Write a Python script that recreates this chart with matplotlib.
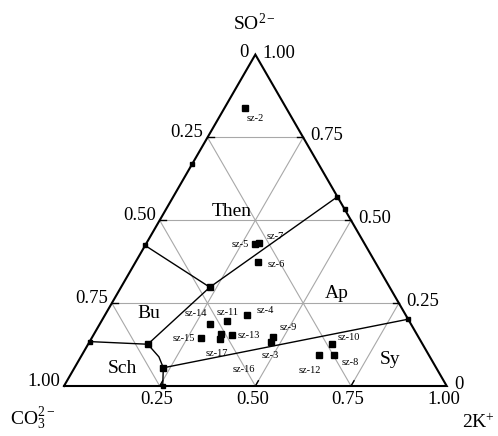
import numpy as np
import matplotlib.pyplot as plt

plt.rcParams['font.family'] = ['Liberation Serif', 'DejaVu Serif']
plt.rcParams['mathtext.fontset'] = 'custom'
plt.rcParams['mathtext.rm'] = 'Liberation Serif'
plt.rcParams['mathtext.it'] = 'Liberation Serif:italic'

H = np.sqrt(3) / 2

# samples: fractions of CO3(2-), SO4(2-), 2K(+)
names = ['sz-2', 'sz-5', 'sz-7', 'sz-6', 'sz-4', 'sz-11', 'sz-14', 'sz-15',
         'sz-17', 'sz-16', 'sz-13', 'sz-9', 'sz-3', 'sz-10', 'sz-8', 'sz-12']
co3 = [0.108, 0.287, 0.275, 0.307, 0.414, 0.476, 0.524, 0.570,
       0.511, 0.521, 0.484, 0.379, 0.393, 0.238, 0.247, 0.287]
so4 = [0.839, 0.428, 0.432, 0.374, 0.215, 0.196, 0.187, 0.144,
       0.156, 0.141, 0.153, 0.149, 0.134, 0.126, 0.093, 0.093]
k2 = [0.053, 0.285, 0.293, 0.319, 0.371, 0.328, 0.289, 0.286,
      0.333, 0.338, 0.363, 0.472, 0.473, 0.636, 0.660, 0.620]

# phase boundaries, each a list of (CO3, SO4, 2K)
boundaries = [
    [(0.576, 0.424, 0.0), (0.470, 0.298, 0.232)],
    [(0.470, 0.298, 0.232), (0.0, 0.571, 0.429)],
    [(0.470, 0.298, 0.232), (0.718, 0.126, 0.156)],
    [(0.718, 0.126, 0.156), (0.866, 0.134, 0.0)],
    [(0.718, 0.126, 0.156), (0.708, 0.088, 0.204), (0.713, 0.055, 0.232)],
    [(0.713, 0.055, 0.232), (0.742, 0.0, 0.258)],
    [(0.713, 0.055, 0.232), (0.0, 0.2015, 0.7985)],
]
junctions = [(0.470, 0.298, 0.232), (0.718, 0.126, 0.156), (0.713, 0.055, 0.232)]
edge_points = [(0.576, 0.424, 0.0), (0.33, 0.67, 0.0), (0.0, 0.571, 0.429),
               (0.0, 0.534, 0.466), (0.866, 0.134, 0.0), (0.742, 0.0, 0.258),
               (0.0, 0.2015, 0.7985)]

fields = ['Then', 'Bu', 'Sch', 'Ap', 'Sy']
ticks = [0.25, 0.50, 0.75]

# label offsets in pixels (dx right, dy down)
label_off = {
    'sz-2': (10, 10.7), 'sz-5': (-15, 0), 'sz-7': (16, -6.3), 'sz-6': (19, 2),
    'sz-4': (17.7, -4), 'sz-11': (1, -8.3), 'sz-14': (-14.4, -10.7),
    'sz-15': (-16.8, 0.7), 'sz-13': (16.2, 0), 'sz-9': (15, -9.4),
    'sz-3': (0, 14.3), 'sz-17': (-4.3, 19), 'sz-16': (24, 30.7),
    'sz-10': (17.3, -6.6), 'sz-8': (16, 7.4), 'sz-12': (-9.3, 15.4),
}
field_pos = {'Then': (232, 216), 'Bu': (149, 318), 'Sch': (122, 373),
             'Ap': (337, 298), 'Sy': (390, 364)}

SCALE = 382.7
X0, Y0 = 64, 386


def tern(c, s, k):
    tot = c + s + k
    s, k = s / tot, k / tot
    return k + s / 2, s * H


def pix(x, y):
    # image pixel -> data coords (for text only)
    return (x - X0) / SCALE, (Y0 - y) / SCALE


fig = plt.figure(figsize=(4.98, 4.36), dpi=100)
ax = fig.add_axes([0, 0, 1, 1])
ax.set_xlim(-X0 / SCALE, (498 - X0) / SCALE)
ax.set_ylim(-(436 - Y0) / SCALE, Y0 / SCALE)
ax.axis('off')

# grid
for t in ticks:
    a = tern(1 - t, t, 0)
    b = tern(0, t, 1 - t)
    ax.plot([a[0], b[0]], [a[1], b[1]], color='#a8a8a8', lw=0.8, zorder=1)
    a = tern(1 - t, 0, t)
    b = tern(0, 1 - t, t)
    ax.plot([a[0], b[0]], [a[1], b[1]], color='#a8a8a8', lw=0.8, zorder=1)
    a = tern(t, 0, 1 - t)
    b = tern(t, 1 - t, 0)
    ax.plot([a[0], b[0]], [a[1], b[1]], color='#a8a8a8', lw=0.8, zorder=1)

# frame
corners = [tern(1, 0, 0), tern(0, 0, 1), tern(0, 1, 0), tern(1, 0, 0)]
ax.plot([p[0] for p in corners], [p[1] for p in corners], color='black',
        lw=1.5, zorder=3, solid_joinstyle='miter')

# small ticks
tl = 6 / SCALE
for t in ticks:
    x, y = tern(1 - t, t, 0)
    ax.plot([x, x + tl], [y, y], color='black', lw=1, zorder=3)
    x, y = tern(0, t, 1 - t)
    ax.plot([x, x - tl], [y, y], color='black', lw=1, zorder=3)
    x, y = tern(1 - t, 0, t)
    ax.plot([x, x + tl / 2], [y, y + tl * H], color='black', lw=1, zorder=3)

# boundaries
for line in boundaries:
    pts = [tern(*p) for p in line]
    ax.plot([p[0] for p in pts], [p[1] for p in pts], color='black', lw=1,
            zorder=4)
for p in junctions:
    x, y = tern(*p)
    ax.plot(x, y, 's', color='black', ms=4.3, zorder=5)
for p in edge_points:
    x, y = tern(*p)
    ax.plot(x, y, 's', color='black', ms=2.5, zorder=5)

# samples
for n, c, s, k in zip(names, co3, so4, k2):
    x, y = tern(c, s, k)
    ax.plot(x, y, 's', color='black', ms=4.3, zorder=6)
    dx, dy = label_off[n]
    ax.annotate(n, (x, y), xytext=(dx, -dy), textcoords='offset pixels',
                ha='center', va='center', fontsize=7.5, zorder=7)

# field names
for f in fields:
    x, y = pix(*field_pos[f])
    ax.text(x, y, f, ha='center', va='baseline', fontsize=14)

# tick labels
tick_labels = ['0', '0.25', '0.50', '0.75', '1.00']
lvals = [0, 0.25, 0.5, 0.75, 1.0]
for v, lab in zip(lvals, tick_labels):
    # left axis: CO3 fraction, reading downward
    if v > 0:
        x, y = tern(v, 1 - v, 0)
        ax.annotate(lab, (x, y), xytext=(-4, 5), textcoords='offset pixels',
                    ha='right', va='center', fontsize=13.5)
    # right axis: SO4 fraction
    x, y = tern(0, v, 1 - v)
    ax.annotate(lab, (x, y), xytext=(7.5, 1.5), textcoords='offset pixels',
                ha='left', va='center', fontsize=13.5)
    # bottom axis: 2K fraction
    if v > 0:
        x, y = tern(1 - v, 0, v)
        ax.annotate(lab, (x, y), xytext=(-3, -13), textcoords='offset pixels',
                    ha='center', va='center', fontsize=13.5)
x, y = tern(0, 1, 0)
ax.annotate('0', (x, y), xytext=(-7, 2), textcoords='offset pixels',
            ha='right', va='center', fontsize=13.5)

# axis titles
x, y = pix(254, 30)
ax.text(x, y, 'SO$^{2-}$', ha='center', va='baseline', fontsize=14)
x, y = pix(10, 425)
ax.text(x, y, 'CO$_3^{2-}$', ha='left', va='baseline', fontsize=14)
x, y = pix(478, 428)
ax.text(x, y, '2K$^{+}$', ha='center', va='baseline', fontsize=14)

fig.savefig('out.png', dpi=100)
